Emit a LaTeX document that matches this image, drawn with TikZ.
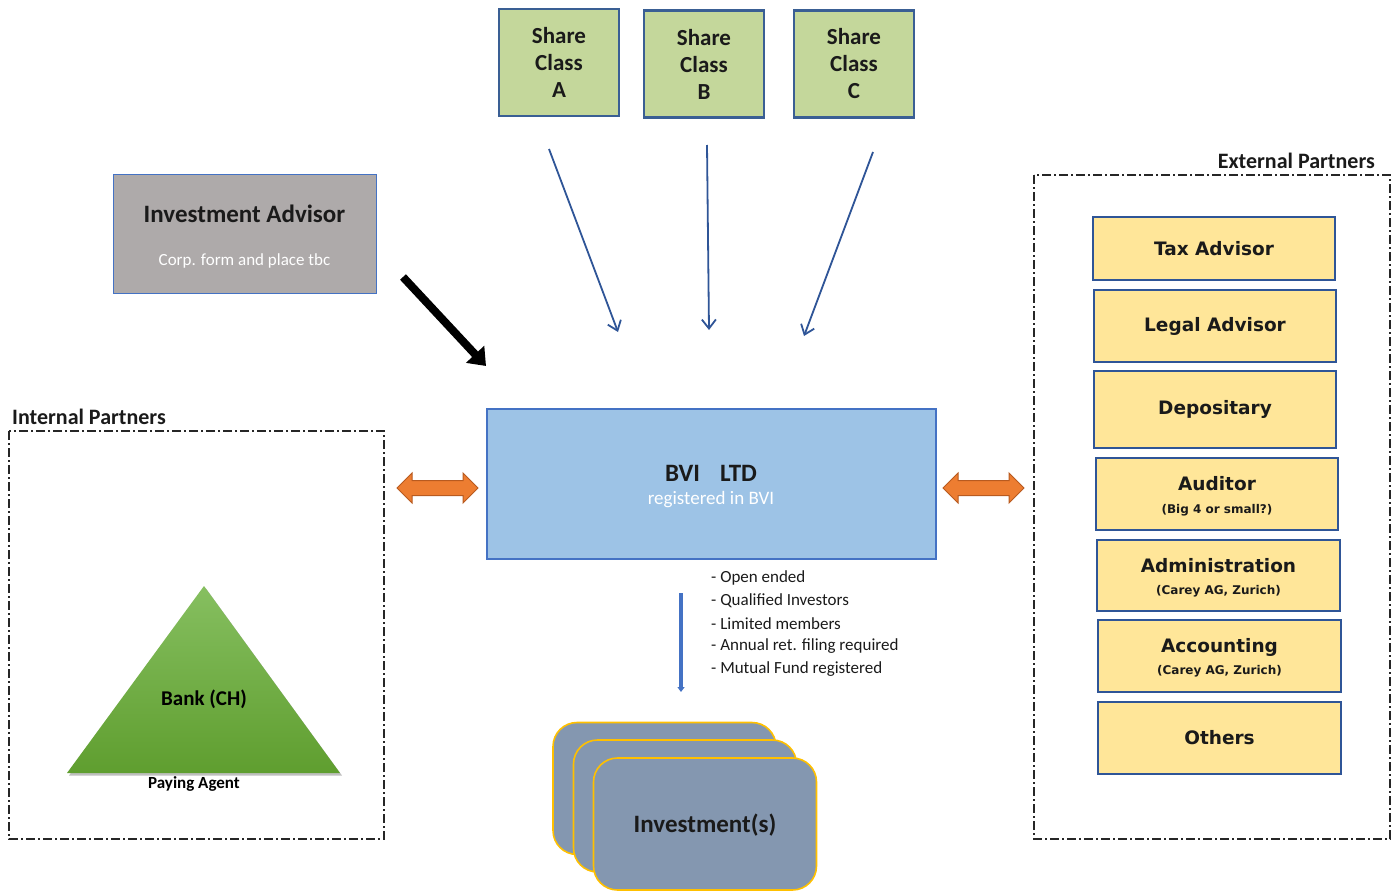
\documentclass[tikz,border=0pt]{standalone}
\usepackage{fontspec}
\setmainfont{Carlito}
\newfontfamily\verd{DejaVu Sans}
\usetikzlibrary{arrows.meta,shadows}
\definecolor{shgreen}{HTML}{C4D79B}
\definecolor{shborder}{HTML}{3A5F94}
\definecolor{advgray}{HTML}{AEAAAA}
\definecolor{midblue}{HTML}{4472C4}
\definecolor{bviblue}{HTML}{9DC3E6}
\definecolor{arrblue}{HTML}{2F5597}
\definecolor{orfill}{HTML}{ED7D31}
\definecolor{orline}{HTML}{B85A1F}
\definecolor{yel}{HTML}{FFE699}
\definecolor{invfill}{HTML}{8497B0}
\definecolor{invline}{HTML}{FFC000}
\definecolor{gtop}{HTML}{86BF60}
\definecolor{gbot}{HTML}{5F9E2F}
\definecolor{txt}{HTML}{1A1A1A}
\tikzset{
  shareclass/.style={draw=shborder, line width=2.6pt, fill=shgreen, minimum width=120pt, minimum height=107pt,
    align=center, text=txt, font=\fontsize{23}{27}\selectfont\bfseries, inner sep=0pt},
  partner/.style={draw=arrblue, line width=1.1pt, fill=yel, minimum width=241pt, minimum height=70pt,
    align=center, text=txt, inner sep=0pt},
  ptitle/.style={font=\verd\bfseries\fontsize{18.5}{22}\selectfont},
  psub/.style={font=\verd\bfseries\fontsize{12}{14}\selectfont, text=txt},
  invbox/.style={draw=invline, line width=1.6pt, fill=invfill, rounded corners=24pt, minimum width=223pt, minimum height=132pt},
  groupbox/.style={draw=black!85, line width=1.3pt, dash pattern=on 9pt off 3pt on 2pt off 3pt},
  grouplabel/.style={font=\fontsize{22}{25}\selectfont\bfseries, text=txt, inner sep=0pt},
  sharearrow/.style={draw=arrblue, line width=1.8pt, -{Straight Barb[length=9pt,width=14pt,line width=1.8pt]}},
  bullet/.style={font=\fontsize{17}{20}\selectfont, text=txt, anchor=west, inner sep=0pt},
  dblarrow/.style={fill=orfill, draw=orline, line width=1pt, line join=miter}
}
\begin{document}
\begin{tikzpicture}[x=1pt,y=-1pt]
\useasboundingbox (0,0) rectangle (1396,891);

% share classes
\node[shareclass] (sa) at (559,62.5) {Share\\Class\\A};
\node[shareclass] (sb) at (704,64) {Share\\Class\\B};
\node[shareclass] (sc) at (854,64) {Share\\Class\\C};

% investment advisor
\node[draw=midblue, line width=1pt, fill=advgray, minimum width=263pt, minimum height=119pt, inner sep=0pt] (ia) at (244.5,233.5) {};
\node[font=\fontsize{25}{28}\selectfont\bfseries, text=txt, inner sep=0pt] (iat) at (244.5,214) {Investment Advisor};
\node[font=\fontsize{17}{20}\selectfont, text=white, inner sep=0pt] (ias) at (244.5,261) {Corp. form and place tbc};

% BVI box
\node[draw=midblue, line width=1.2pt, fill=bviblue, minimum width=449pt, minimum height=150pt, inner sep=0pt] (bvi) at (711.5,484) {};
\node[font=\fontsize{25}{28}\selectfont\bfseries, text=txt, inner sep=0pt] (bvit) at (711,473) {BVI\hspace{20pt}LTD};
\node[font=\fontsize{19}{22}\selectfont, text=white, inner sep=0pt] (bvis) at (711,500) {registered in BVI};

% share class arrows
\coordinate (saS) at (549,149); \coordinate (saE) at (618,332);
\coordinate (sbS) at (707,145); \coordinate (sbE) at (709,330);
\coordinate (scS) at (873,152); \coordinate (scE) at (804,336);
\draw[sharearrow] (saS) -- (saE);
\draw[sharearrow] (sbS) -- (sbE);
\draw[sharearrow] (scS) -- (scE);

% black advisor arrow
\coordinate (iaS) at (403,277); \coordinate (iaE) at (486,366);
\draw[line width=8pt, -{Triangle[length=16pt,width=24pt]}] (iaS) -- (iaE);

% internal partners
\node[grouplabel, anchor=west] (intl) at (12,417) {Internal Partners};
\draw[groupbox] (9,431) rectangle (384,839);

\shade[top color=gtop, bottom color=gbot, drop shadow={shadow xshift=2pt, shadow yshift=-2.5pt, opacity=0.25, fill=black}]
  (204,586) -- (340,773) -- (67,773) -- cycle;
\node[font=\fontsize{21}{24}\selectfont\bfseries, text=black, inner sep=0pt] (bank) at (204,699) {Bank (CH)};
\node[font=\fontsize{17}{20}\selectfont\bfseries, text=black, inner sep=0pt] (pay) at (194,784) {Paying Agent};

% orange double arrows
\fill[dblarrow] (397,488) -- (412,473) -- (412,480.5) -- (463,480.5) -- (463,473) -- (478,488)
  -- (463,503) -- (463,495.5) -- (412,495.5) -- (412,503) -- cycle;
\fill[dblarrow] (943,488) -- (958,473) -- (958,480.5) -- (1009,480.5) -- (1009,473) -- (1024,488)
  -- (1009,503) -- (1009,495.5) -- (958,495.5) -- (958,503) -- cycle;

% bullet list
\node[bullet] (b1) at (711,578) {- Open ended};
\node[bullet] (b2) at (711,601) {- Qualified Investors};
\node[bullet] (b3) at (711,624) {- Limited members};
\node[bullet] (b4) at (711,646) {- Annual ret. filing required};
\node[bullet] (b5) at (711,669) {- Mutual Fund registered};

% down arrow
\coordinate (dS) at (681,593); \coordinate (dE) at (681,692);
\draw[draw=midblue, line width=3.2pt, -{Triangle[length=5pt,width=7pt]}] (dS) -- (dE);

% investments
\node[invbox] (inv1) at (664.5,788.5) {};
\node[invbox] (inv2) at (685,806) {};
\node[invbox] (inv3) at (705,824) {};
\node[font=\fontsize{25}{28}\selectfont\bfseries, text=txt, inner sep=0pt] (invt) at (705,825) {Investment(s)};

% external partners
\node[grouplabel, anchor=east] (extl) at (1375,161) {External Partners};
\draw[groupbox] (1034,175) rectangle (1390,839);

\node[partner, minimum width=242pt, minimum height=63pt] (tax) at (1214,248.5) {};
\node[ptitle, text=txt] at (tax.center) {Tax Advisor};
\node[partner, minimum width=242pt, minimum height=72pt] (legal) at (1215,326) {};
\node[ptitle, text=txt] at (legal.center) {Legal Advisor};
\node[partner, minimum width=242pt, minimum height=77pt] (dep) at (1215,409.5) {};
\node[ptitle, text=txt] at (dep.center) {Depositary};
\node[partner, minimum width=242pt, minimum height=72pt] (aud) at (1217,494) {};
\node[ptitle, text=txt] at (1217,484) {Auditor};
\node[psub] at (1217,510) {(Big 4 or small?)};
\node[partner, minimum width=243pt, minimum height=71pt] (adm) at (1218.5,575.5) {};
\node[ptitle, text=txt] at (1218.5,566) {Administration};
\node[psub] at (1218.5,591) {(Carey AG, Zurich)};
\node[partner, minimum width=243pt, minimum height=72pt] (acc) at (1219.5,656) {};
\node[ptitle, text=txt] at (1219.5,647) {Accounting};
\node[psub] at (1219.5,671) {(Carey AG, Zurich)};
\node[partner, minimum width=243pt, minimum height=72pt] (oth) at (1219.5,738) {};
\node[ptitle, text=txt] at (oth.center) {Others};
\end{tikzpicture}
\end{document}
